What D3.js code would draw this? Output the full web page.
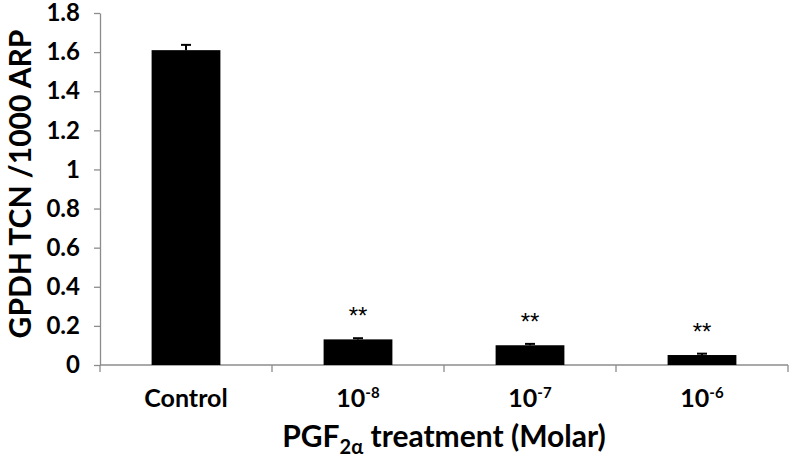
<!DOCTYPE html>
<html><head><meta charset="utf-8">
<script src="https://cdn.jsdelivr.net/npm/d3@7"></script>
<style>body{margin:0;background:#fff}svg{display:block}</style>
</head><body>
<script>
const categories = ["Control", "1e-8", "1e-7", "1e-6"];
const catBase = ["Control", "10", "10", "10"];
const catSup = ["", "-8", "-7", "-6"];
const values = [1.61, 0.131, 0.101, 0.051];
const errors = [0.027, 0.006, 0.007, 0.007];
const signif = ["", "**", "**", "**"];
const yTicks = [0, 0.2, 0.4, 0.6, 0.8, 1, 1.2, 1.4, 1.6, 1.8];

const W = 792, H = 457;
const svg = d3.select("body").append("svg").attr("width", W).attr("height", H);
const font = "Lato, 'Open Sans', sans-serif";
const axisCol = "#8c8c8c";

const y = d3.scaleLinear().domain([0, 1.8]).range([365, 13]);
const x = d3.scaleBand().domain(categories).range([100, 788]).paddingInner(0.6).paddingOuter(0.3);

// y axis
const ya = svg.append("g").attr("transform", "translate(100,0)")
  .call(d3.axisLeft(y).tickValues(yTicks).tickSize(6).tickSizeOuter(0).tickPadding(14).tickFormat(d => d3.format("")(d)));
ya.select(".domain").attr("stroke", axisCol).attr("stroke-width", 1.3);
ya.selectAll(".tick line").attr("stroke", axisCol).attr("stroke-width", 1.3);
ya.selectAll(".tick text").attr("font-family", font).attr("font-weight", "bold").attr("font-size", 24).attr("fill", "#000");

// x axis line and boundary ticks
const xa = svg.append("g");
xa.append("line").attr("x1", 100).attr("x2", 788).attr("y1", y(0)).attr("y2", y(0)).attr("stroke", axisCol).attr("stroke-width", 1.3);
const bounds = d3.range(categories.length + 1).map(i => 100 + i * x.step());
xa.selectAll("line.b").data(bounds).join("line").attr("class", "b")
  .attr("x1", d => d).attr("x2", d => d).attr("y1", y(0)).attr("y2", y(0) + 7)
  .attr("stroke", axisCol).attr("stroke-width", 1.3);

// bars
svg.selectAll("rect.bar").data(values).join("rect").attr("class", "bar")
  .attr("x", (d, i) => x(categories[i])).attr("width", x.bandwidth())
  .attr("y", d => y(d)).attr("height", d => y(0) - y(d)).attr("fill", "#000");

// error bars
const eb = svg.append("g").attr("stroke", "#000").attr("stroke-width", 2);
values.forEach((v, i) => {
  const cx = x(categories[i]) + x.bandwidth() / 2;
  eb.append("line").attr("x1", cx).attr("x2", cx).attr("y1", y(v)).attr("y2", y(v + errors[i]));
  eb.append("line").attr("x1", cx - 5).attr("x2", cx + 5).attr("y1", y(v + errors[i])).attr("y2", y(v + errors[i]));
});

// significance
svg.selectAll("text.sig").data(signif).join("text").attr("class", "sig")
  .attr("x", (d, i) => x(categories[i]) + x.bandwidth() / 2)
  .attr("y", (d, i) => y(values[i] + errors[i]) - 14)
  .attr("text-anchor", "middle").attr("font-family", "'Liberation Sans', Arial, sans-serif").attr("font-size", 24).attr("fill", "#000")
  .text(d => d);

// category labels
const cl = svg.selectAll("text.cat").data(categories).join("text").attr("class", "cat")
  .attr("x", d => x(d) + x.bandwidth() / 2).attr("y", 407)
  .attr("text-anchor", "middle").attr("font-family", font).attr("font-weight", "bold").attr("font-size", 25).attr("fill", "#000");
cl.each(function(d, i) {
  const t = d3.select(this);
  t.append("tspan").text(catBase[i]);
  if (catSup[i]) t.append("tspan").attr("dy", -9).attr("font-size", 15).text(catSup[i]);
});

// x title
const xt = svg.append("text").attr("x", 444).attr("y", 447).attr("text-anchor", "middle")
  .attr("font-family", font).attr("font-weight", "bold").attr("font-size", 30).attr("fill", "#000");
xt.append("tspan").text("PGF");
xt.append("tspan").attr("dy", 7).attr("font-size", 20).text("2α");
xt.append("tspan").attr("dy", -7).text(" treatment (Molar)");

// y title
svg.append("text").attr("transform", "translate(31,184) rotate(-90)").attr("text-anchor", "middle")
  .attr("font-family", font).attr("font-weight", "bold").attr("font-size", 30).attr("fill", "#000")
  .text("GPDH TCN /1000 ARP");
</script>
</body></html>
